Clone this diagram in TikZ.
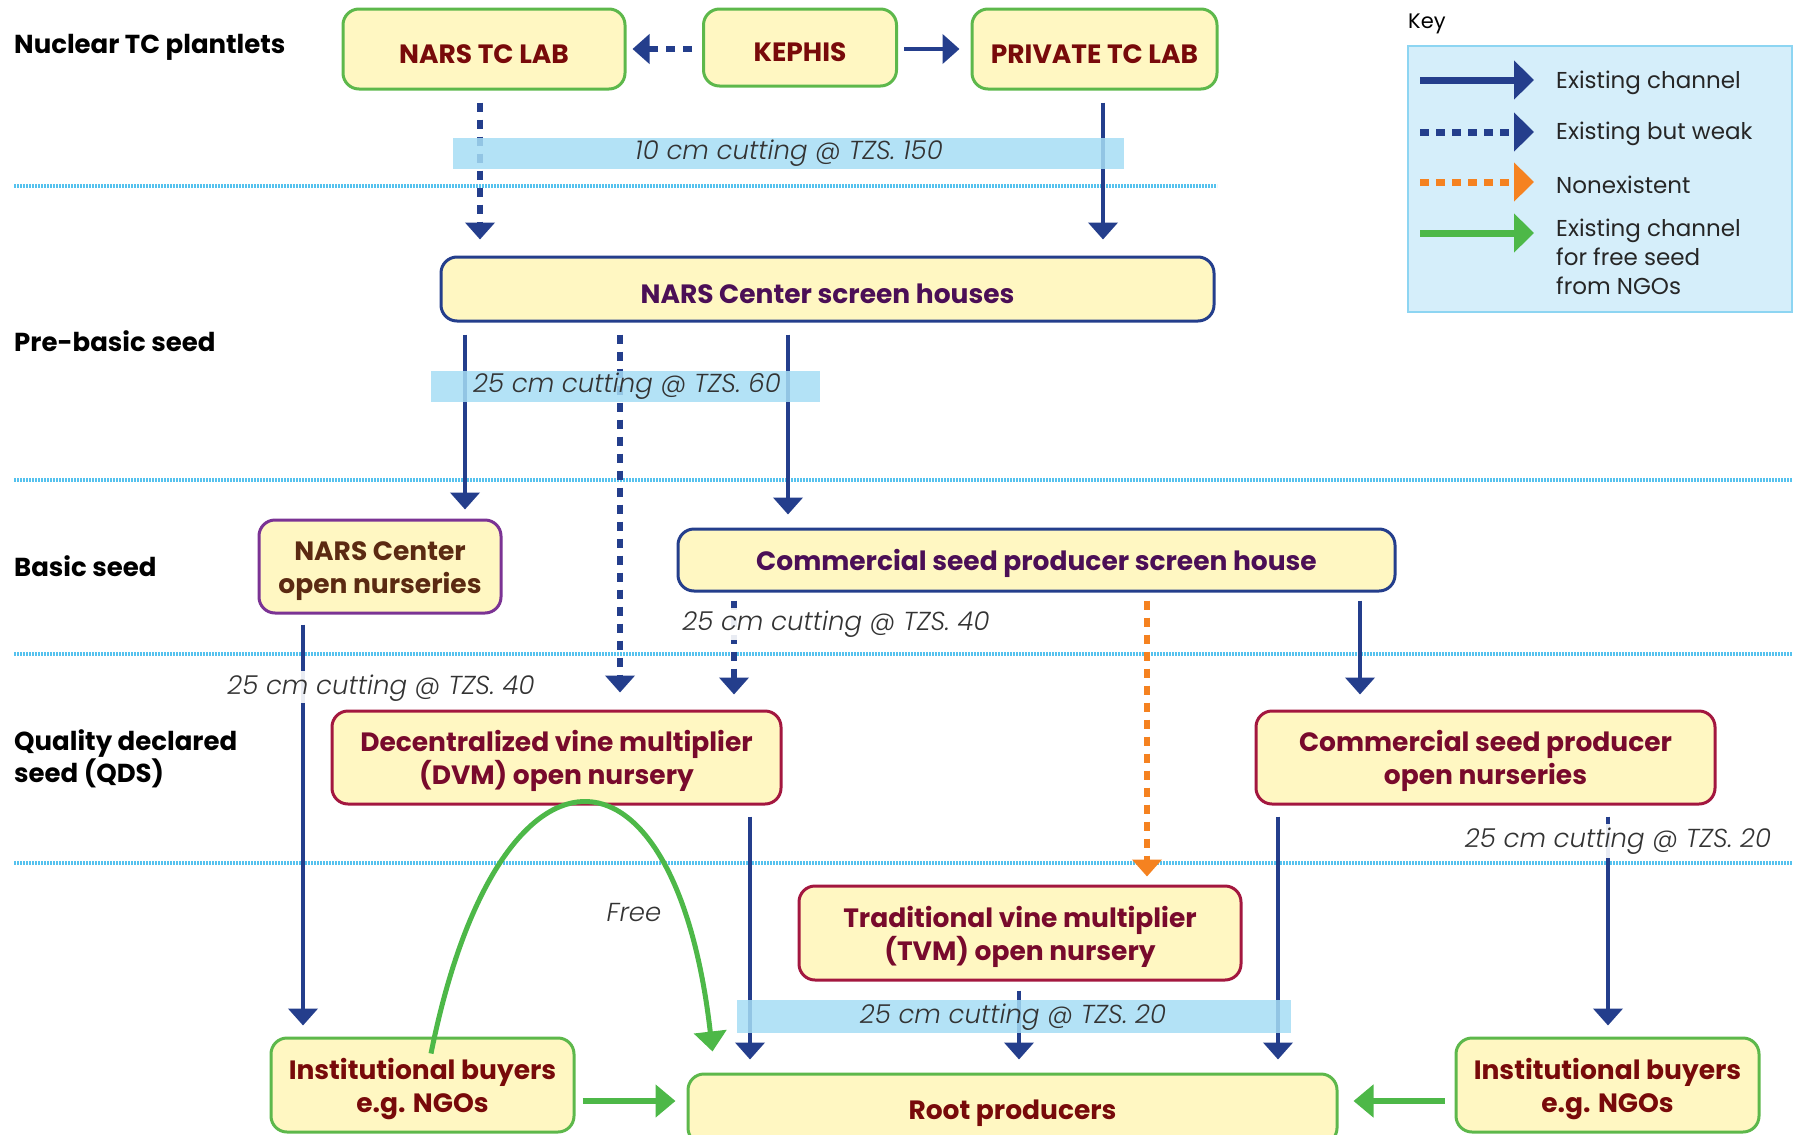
\documentclass[tikz,border=0pt]{standalone}
\usepackage{fontspec}
\setmainfont{Poppins}
\newfontfamily\cutfont{Poppins Light Italic}
\usetikzlibrary{arrows.meta,calc}
\newcommand\uplift{\rule{0pt}{29pt}}
\definecolor{navy}{HTML}{243E8C}
\definecolor{orng}{HTML}{F58220}
\definecolor{grn}{HTML}{4DB848}
\definecolor{boxgreen}{HTML}{5DB84B}
\definecolor{boxfill}{HTML}{FFF7C2}
\definecolor{maroon}{HTML}{780A0A}
\definecolor{purp}{HTML}{4B0F56}
\definecolor{purpborder}{HTML}{7B3394}
\definecolor{brownt}{HTML}{5B2A12}
\definecolor{crimson}{HTML}{A3173F}
\definecolor{crimt}{HTML}{780A2C}
\definecolor{bandblue}{HTML}{A6DDF4}
\definecolor{sepblue}{HTML}{55C2EE}
\definecolor{keyfill}{HTML}{D5EEFA}
\definecolor{keyborder}{HTML}{8DD5F2}
\definecolor{labgray}{HTML}{333333}
\begin{document}
\begin{tikzpicture}[x=1pt,y=-1pt,
  box/.style={rounded corners=16pt, fill=boxfill, line width=3pt, align=center, inner sep=0pt,
    font=\bfseries\fontsize{26.5}{33}\selectfont},
  gbox/.style={box, draw=boxgreen, text=maroon},
  nbox/.style={box, draw=navy, text=purp},
  cbox/.style={box, draw=crimson, text=crimt},
  pbox/.style={box, draw=purpborder, text=brownt},
  tier/.style={font=\bfseries\fontsize{26}{32}\selectfont, text=black, anchor=west, inner sep=0pt, align=left},
  sep/.style={draw=sepblue, line width=4.5pt, dash pattern=on 2pt off 1pt},
  solidarr/.style={draw=navy, line width=4.5pt, -{Triangle[width=29pt,length=17pt]}},
  weakarr/.style={draw=navy, line width=5.5pt, dash pattern=on 9pt off 8pt, -{Triangle[width=29pt,length=17pt]}},
  nonarr/.style={draw=orng, line width=5.5pt, dash pattern=on 9pt off 8pt, -{Triangle[width=29pt,length=17pt]}},
  greenarr/.style={draw=grn, line width=6pt, -{Triangle[width=32pt,length=20pt]}},
  band/.style={fill=bandblue, fill opacity=0.85, draw=none},
  whiteband/.style={fill=white, fill opacity=0.9, draw=none},
  cut/.style={font=\cutfont\fontsize{26}{30}\selectfont, text=labgray, inner sep=0pt},
  keytxt/.style={font=\fontsize{23}{29}\selectfont, text=black!85, anchor=west, inner sep=0pt, align=left},
  keysolid/.style={draw=navy, line width=7pt, -{Triangle[width=38pt,length=20pt]}},
  keyweak/.style={draw=navy, line width=7pt, dash pattern=on 9pt off 7pt, -{Triangle[width=38pt,length=20pt]}},
  keynon/.style={draw=orng, line width=7pt, dash pattern=on 9pt off 7pt, -{Triangle[width=38pt,length=20pt]}},
  keygreen/.style={draw=grn, line width=7pt, -{Triangle[width=38pt,length=20pt]}}
]
\useasboundingbox (0,0) rectangle (1799,1135);

% separators
\draw[sep] (14,186) -- (1217,186);
\draw[sep] (14,480) -- (1792,480);
\draw[sep] (14,654) -- (1792,654);
\draw[sep] (14,863) -- (1792,863);

% tier labels
\node[tier] (lnuc) at (14,47) {Nuclear TC plantlets};
\node[tier] (lpre) at (14,341) {Pre-basic seed};
\node[tier] (lbas) at (14,566) {Basic seed};
\node[tier, anchor=north west] (lqds) at (14,729) {Quality declared\\seed (QDS)};

% nodes
\node[gbox, minimum width=282pt, minimum height=80pt] (narstc) at (484,49) {\uplift NARS TC LAB};
\node[gbox, minimum width=193pt, minimum height=77pt] (kephis) at (800,47.5) {\uplift KEPHIS};
\node[gbox, minimum width=245pt, minimum height=80pt] (private) at (1094.5,49) {\uplift PRIVATE TC LAB};
\node[nbox, minimum width=773pt, minimum height=64pt] (screen) at (827.5,289) {\uplift NARS Center screen houses};
\node[pbox, minimum width=242pt, minimum height=93pt] (narsopen) at (380,566.5) {\uplift NARS Center\\open nurseries};
\node[nbox, minimum width=717pt, minimum height=62pt] (csp) at (1036.5,560) {\uplift Commercial seed producer screen house};
\node[cbox, minimum width=449pt, minimum height=93pt] (dvm) at (556.5,757.5) {\uplift Decentralized vine multiplier\\(DVM) open nursery};
\node[cbox, minimum width=459pt, minimum height=93pt] (cspopen) at (1485.5,757.5) {\uplift Commercial seed producer\\open nurseries};
\node[cbox, minimum width=442pt, minimum height=94pt] (tvm) at (1020,933) {\uplift Traditional vine multiplier\\(TVM) open nursery};
\node[gbox, minimum width=303pt, minimum height=94pt] (instL) at (422.5,1085) {\uplift Institutional buyers\\e.g. NGOs};
\node[gbox, minimum width=649pt, minimum height=70pt] (root) at (1012.5,1109) {\uplift Root producers};
\node[gbox, minimum width=303pt, minimum height=94pt] (instR) at (1607.5,1085) {\uplift Institutional buyers\\e.g. NGOs};

% horizontal arrows
\draw[weakarr, shorten <=10pt, shorten >=6pt] ([yshift=-1.5pt]kephis.west) -- ([yshift=-1.5pt]kephis.west -| narstc.east);
\draw[solidarr, shorten <=6pt, shorten >=11pt] ([yshift=-1.5pt]kephis.east) -- ([yshift=-1.5pt]kephis.east -| private.west);

% vertical arrows
\draw[weakarr, shorten <=12pt, shorten >=16pt] ([xshift=-4pt]narstc.south) -- ([xshift=-4pt]narstc.south |- screen.north);
\draw[solidarr, shorten <=12pt, shorten >=16pt] ([xshift=8.5pt]private.south) -- ([xshift=8.5pt]private.south |- screen.north);
\draw[solidarr, shorten <=12pt, shorten >=9pt] ([xshift=-362.5pt]screen.south) -- ([xshift=-362.5pt]screen.south |- narsopen.north);
\draw[weakarr, shorten <=12pt, shorten >=17pt] ([xshift=-207.5pt]screen.south) -- ([xshift=-207.5pt]screen.south |- dvm.north);
\draw[solidarr, shorten <=12pt, shorten >=13pt] ([xshift=-39.5pt]screen.south) -- ([xshift=-39.5pt]screen.south |- csp.north);
\draw[solidarr, shorten <=10pt, shorten >=11pt] ([xshift=-77pt]narsopen.south) -- ([xshift=-77pt]narsopen.south |- instL.north);
\draw[weakarr, shorten <=8pt, shorten >=15pt] ([xshift=-302.5pt]csp.south) -- ([xshift=-302.5pt]csp.south |- dvm.north);
\draw[nonarr, shorten <=8pt, shorten >=8pt] ([xshift=110.5pt]csp.south) -- ([xshift=110.5pt]csp.south |- tvm.north);
\draw[solidarr, shorten <=8pt, shorten >=15pt] ([xshift=323.5pt]csp.south) -- ([xshift=323.5pt]csp.south |- cspopen.north);
\draw[solidarr, shorten <=11pt, shorten >=13pt] ([xshift=193.5pt]dvm.south) -- ([xshift=193.5pt]dvm.south |- root.north);
\draw[solidarr, shorten <=11pt, shorten >=13pt] ([xshift=-207.5pt]cspopen.south) -- ([xshift=-207.5pt]cspopen.south |- root.north);
\draw[solidarr, shorten <=11pt, shorten >=11pt] ([xshift=122.5pt]cspopen.south) -- ([xshift=122.5pt]cspopen.south |- instR.north);
\draw[solidarr, shorten <=9pt, shorten >=13pt] ([xshift=-1pt]tvm.south) -- ([xshift=-1pt]tvm.south |- root.north);

% green arrows
\draw[greenarr, shorten <=7pt, shorten >=11pt] ([yshift=-16pt]instL.east) -- ([yshift=-16pt]instL.east -| root.west);
\draw[greenarr, shorten <=10pt, shorten >=15pt] ([yshift=-16pt]instR.west) -- ([yshift=-16pt]instR.west -| root.east);
\coordinate (gstart) at ($(instL.north)+(8.5,17)$);
\coordinate (gend) at ($(root.north west)+(26,-21)$);
\draw[greenarr, line width=5pt] (gstart) .. controls (498,720) and (675,722) .. (gend);
\node[cut] (free) at (634,913) {Free};

% cutting bands
\fill[band] (453,138) rectangle (1124,169);
\node[cut] (c1) at (789,153) {10 cm cutting @ TZS. 150};
\fill[band] (431,371) rectangle (820,402);
\node[cut] (c2) at (627,386) {25 cm cutting @ TZS. 60};
\fill[whiteband] (195,671) rectangle (568,703);
\node[cut] (c3) at (381,688) {25 cm cutting @ TZS. 40};
\fill[whiteband] (679,608) rectangle (989,640);
\node[cut] (c4) at (836,624) {25 cm cutting @ TZS. 40};
\fill[whiteband] (1431,824) rectangle (1792,858);
\node[cut] (c5) at (1618,841) {25 cm cutting @ TZS. 20};
\fill[band] (737,1000) rectangle (1291,1033);
\node[cut] (c6) at (1013,1017) {25 cm cutting @ TZS. 20};

% key
\node[font=\fontsize{21}{24}\selectfont, anchor=west, inner sep=0pt] (keylab) at (1408,24) {Key};
\draw[fill=keyfill, draw=keyborder, line width=2pt] (1408,46) rectangle (1792,312);
\coordinate (k1a) at (1420,80); \coordinate (k1b) at (1534,80);
\coordinate (k2a) at (1420,132); \coordinate (k2b) at (1534,132);
\coordinate (k3a) at (1420,182); \coordinate (k3b) at (1534,182);
\coordinate (k4a) at (1420,233); \coordinate (k4b) at (1534,233);
\draw[keysolid] (k1a) -- (k1b);
\draw[keyweak] (k2a) -- (k2b);
\draw[keynon] (k3a) -- (k3b);
\draw[keygreen] (k4a) -- (k4b);
\node[keytxt] (kt1) at (1556,83) {Existing channel};
\node[keytxt] (kt2) at (1556,134) {Existing but weak};
\node[keytxt] (kt3) at (1556,185) {Nonexistent};
\node[keytxt, anchor=north west] (kt4) at (1556,219) {Existing channel\\for free seed\\from NGOs};
\end{tikzpicture}
\end{document}
